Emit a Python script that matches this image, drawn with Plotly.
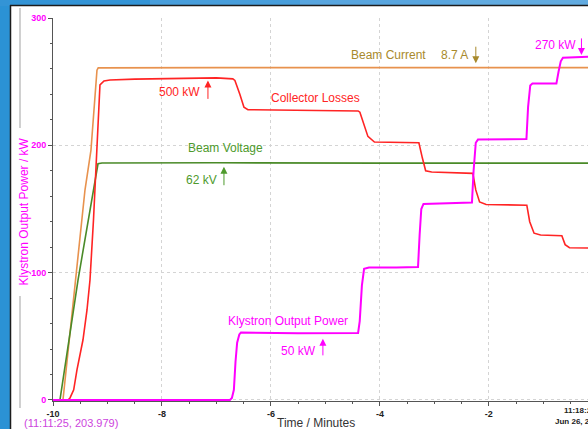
import plotly.graph_objects as go

# ---------------- data (time in minutes, values on kW scale) ----------------
beam_current_t = [-10.0, -9.817, -9.413, -9.303, -9.193, -9.17, -7.0, -4.0, -1.0, -0.18]
beam_current_v = [0.0, 0.0, 164.9, 196.3, 259.0, 260.8, 261.0, 260.8, 261.0, 261.0]

beam_voltage_t = [-10.0, -9.872, -9.541, -9.266, -9.174, -9.10, -7.0, -4.0, -1.0, -0.18]
beam_voltage_v = [0.0, 0.0, 94.2, 164.9, 185.5, 186.1, 186.3, 186.0, 186.2, 186.0]

collector_t = [-10.0, -9.725, -9.688, -9.620, -9.560, -9.450, -9.376, -9.321, -9.257, -9.202,
               -9.174, -9.156, -9.138, -9.064, -8.954, -8.5, -8.0, -7.5, -7.0, -6.70, -6.661,
               -6.569, -6.495, -6.422, -5.5, -4.40, -4.367, -4.30, -4.22, -4.10, -3.70, -3.284,
               -3.22, -3.16, -3.05, -2.70, -2.294, -2.24, -2.17, -2.05, -1.70, -1.303, -1.25,
               -1.17, -1.05, -0.70, -0.66, -0.60, -0.52, -0.18]
collector_v = [0.0, 0.0, 1.6, 8.0, 23.6, 47.1, 70.7, 94.2, 141.4, 188.5,
               212.0, 235.6, 247.4, 250.5, 251.3, 252.0, 252.3, 252.8, 253.0, 252.2, 251.0,
               240.0, 230.0, 228.0, 227.8, 227.0, 226.0, 218.0, 207.0, 202.6, 202.5, 202.0,
               190.0, 180.0, 179.0, 178.5, 178.0, 165.0, 155.5, 153.5, 153.3, 153.0, 140.0,
               131.0, 129.6, 129.5, 129.0, 122.0, 119.6, 119.4]

klystron_t = [-10.0, -6.752, -6.716, -6.68, -6.65, -6.62, -6.58, -6.55, -5.5, -4.40,
              -4.37, -4.33, -4.29, -4.20, -3.70, -3.30, -3.27, -3.24, -3.20, -2.70,
              -2.31, -2.28, -2.24, -2.20, -1.70, -1.31, -1.28, -1.24, -1.20, -0.76,
              -0.72, -0.68, -0.64, -0.18]
klystron_v = [0.0, 0.0, 1.5, 8.0, 30.0, 45.0, 51.5, 53.0, 52.5, 52.6,
              62.0, 90.0, 103.0, 104.0, 104.0, 104.5, 130.0, 150.0, 154.0, 154.5,
              155.0, 180.0, 202.0, 204.5, 204.8, 205.0, 230.0, 247.0, 248.5, 248.5,
              258.0, 266.0, 268.8, 269.5]

x_tick_vals = [-10, -8, -6, -4, -2]
x_tick_text = ["-10", "-8", "-6", "-4", "-2"]
y_tick_vals = [0, 100, 200, 300]
y_tick_text = ["0", "100", "200", "300"]

# ---------------- colours ----------------
C_ORANGE = "#e8924e"
C_GOLD = "#a88a2c"
C_GREEN_LINE = "#4a8a28"
C_GREEN_TXT = "#4e9a2c"
C_RED = "#ff2424"
C_MAG = "#ff00ff"

W, H = 588, 429
ML, MR, MT, MB = 53, 0, 18, 28
PW, PH = W - ML - MR, H - MT - MB


def px(xpix):
    return (xpix - ML) / PW


def py(ypix):
    return 1 - (ypix - MT) / PH


fig = go.Figure()
fig.add_trace(go.Scatter(x=beam_current_t, y=beam_current_v, mode="lines",
                         line=dict(color=C_ORANGE, width=1.6), hoverinfo="skip"))
fig.add_trace(go.Scatter(x=beam_voltage_t, y=beam_voltage_v, mode="lines",
                         line=dict(color=C_GREEN_LINE, width=1.6), hoverinfo="skip"))
fig.add_trace(go.Scatter(x=collector_t, y=collector_v, mode="lines",
                         line=dict(color=C_RED, width=1.6), hoverinfo="skip"))
fig.add_trace(go.Scatter(x=klystron_t, y=klystron_v, mode="lines",
                         line=dict(color=C_MAG, width=2), hoverinfo="skip"))

shapes = []
# blue top strip gradient
blues = [(0, 150, "#3394d6"), (150, 300, "#489edb"), (300, 450, "#58a5de"), (450, 600, "#62abe0")]
for a, b, c in blues:
    shapes.append(dict(type="rect", xref="paper", yref="paper", x0=px(a), x1=px(b),
                       y0=py(6), y1=py(-2), fillcolor=c, line=dict(width=0), layer="below"))
# white panel
shapes.append(dict(type="rect", xref="paper", yref="paper", x0=px(11), x1=px(600),
                   y0=py(440), y1=py(6), fillcolor="white", line=dict(width=0), layer="below"))
# dark borders
shapes.append(dict(type="line", xref="paper", yref="paper", x0=px(10.5), x1=px(10.5),
                   y0=py(440), y1=py(5), line=dict(color="#1c1c1c", width=1.5), layer="below"))
shapes.append(dict(type="line", xref="paper", yref="paper", x0=px(10), x1=px(600),
                   y0=py(5.5), y1=py(5.5), line=dict(color="#1c1c1c", width=1.5), layer="below"))
# grey bracket lines next to y title
shapes.append(dict(type="line", xref="paper", yref="paper", x0=px(20), x1=px(20),
                   y0=py(8), y1=py(128), line=dict(color="#d0d0d0", width=2), layer="below"))
shapes.append(dict(type="line", xref="paper", yref="paper", x0=px(20), x1=px(20),
                   y0=py(296), y1=py(408), line=dict(color="#d0d0d0", width=2), layer="below"))

FONT = "Arial, Liberation Sans, sans-serif"
ann = []


def text(x, y, s, color, size=12, xref="x", yref="y", xanchor="center", bold=False, angle=0):
    ann.append(dict(x=x, y=y, xref=xref, yref=yref, text=s, showarrow=False,
                    xanchor=xanchor, yanchor="middle", textangle=angle,
                    font=dict(family=FONT, size=size, color=color,
                              weight="bold" if bold else "normal")))


def arrow(x, y, ay, color):
    ann.append(dict(x=x, y=y, xref="x", yref="y", text="", showarrow=True, ax=0, ay=ay,
                    arrowhead=2, arrowsize=1.4, arrowwidth=1, arrowcolor=color))


text(-3.835, 271, "Beam Current", C_GOLD)
text(-2.624, 271, "8.7 A", C_GOLD)
arrow(-2.239, 264.5, -18, C_GOLD)
text(-0.771, 278.5, "270 kW", C_MAG)
arrow(-0.30, 271, -18, C_MAG)
text(-7.679, 242, "500 kW", C_RED)
arrow(-7.156, 251, 20, C_RED)
text(-5.174, 237.4, "Collector Losses", C_RED)
text(-6.835, 197.7, "Beam Voltage", C_GREEN_TXT)
text(-7.275, 172.8, "62 kV", C_GREEN_TXT)
arrow(-6.862, 183.2, 20, C_GREEN_TXT)
text(-5.679, 62.3, "Klystron Output Power", C_MAG)
text(-5.495, 38.5, "50 kW", C_MAG)
arrow(-5.046, 48, 18, C_MAG)

text(px(23.5), py(212), "Klystron Output Power / kW", C_MAG, xref="paper", yref="paper", angle=-90)
text(px(316), py(423), "Time / Minutes", "#333333", xref="paper", yref="paper")
text(px(22), py(423), "(11:11:25, 203.979)", "#cc44dd", size=11, xref="paper", yref="paper",
     xanchor="left")
text(px(562), py(411), "11:18:25", "#222222", size=8, xref="paper", yref="paper",
     xanchor="left", bold=True)
text(px(553), py(421), "Jun 26, 2", "#222222", size=8, xref="paper", yref="paper",
     xanchor="left", bold=True)

fig.update_layout(
    width=W, height=H,
    margin=dict(l=ML, r=MR, t=MT, b=MB, pad=0),
    paper_bgcolor="#2b92d5",
    plot_bgcolor="white",
    showlegend=False,
    shapes=shapes,
    annotations=ann,
    xaxis=dict(range=[-10, -0.18], tickvals=x_tick_vals, ticktext=x_tick_text,
               showgrid=True, gridcolor="#d4d4d4", griddash="3px,3px", gridwidth=1,
               zeroline=False, showline=True, linecolor="#555555", linewidth=1,
               ticks="outside", ticklen=4, tickcolor="#555555",
               minor=dict(dtick=0.5, tick0=0, ticks="outside", ticklen=2, tickcolor="#555555",
                          showgrid=False),
               tickfont=dict(family=FONT, size=9, color="#222222", weight="bold"),
               fixedrange=True),
    yaxis=dict(range=[-0.8, 300], tickvals=y_tick_vals, ticktext=y_tick_text,
               showgrid=True, gridcolor="#d4d4d4", griddash="3px,3px", gridwidth=1,
               zeroline=False, showline=True, linecolor="#555555", linewidth=1,
               ticks="outside", ticklen=4, tickcolor="#555555",
               minor=dict(dtick=20, tick0=0, ticks="outside", ticklen=2, tickcolor="#555555",
                          showgrid=False),
               tickfont=dict(family=FONT, size=9, color=C_MAG, weight="bold"),
               fixedrange=True),
)

fig.write_html("out.html", config={"displayModeBar": False},
               post_script="document.body.style.margin='0px';document.body.style.overflow='hidden';")
